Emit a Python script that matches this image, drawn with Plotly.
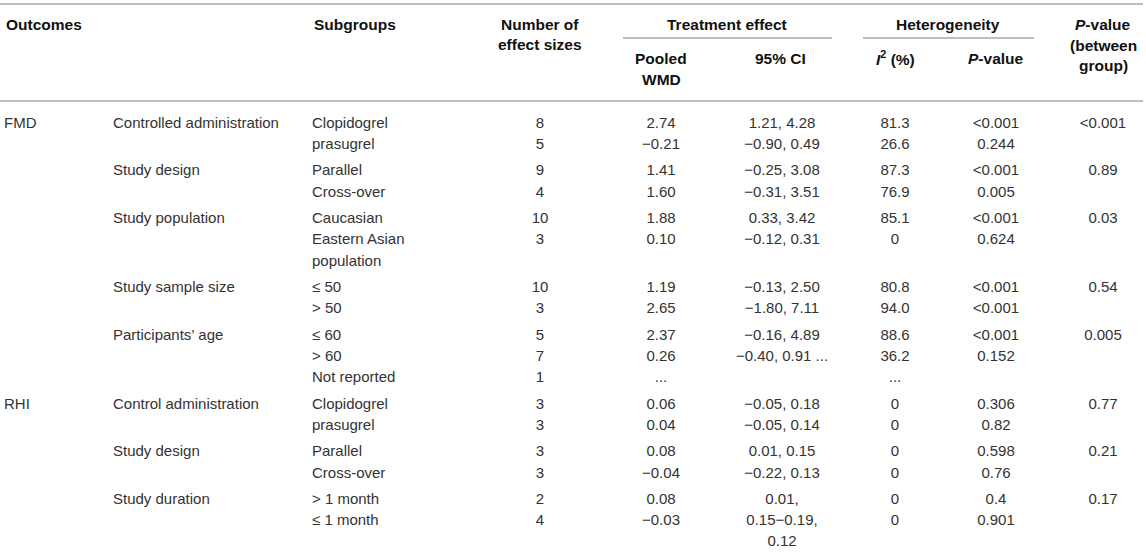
import plotly.graph_objects as go

# table body, one entry per logical row
outcomes = ["FMD", "", "", "", "", "", "", "", "", "", "",
            "RHI", "", "", "", "", ""]
factors = ["Controlled administration", "", "Study design", "", "Study population", "",
           "Study sample size", "", "Participants’ age", "", "",
           "Control administration", "", "Study design", "", "Study duration", ""]
subgroups = ["Clopidogrel", "prasugrel", "Parallel", "Cross-over", "Caucasian",
             "Eastern Asian\npopulation", "≤ 50", "> 50", "≤ 60", "> 60", "Not reported",
             "Clopidogrel", "prasugrel", "Parallel", "Cross-over", "> 1 month", "≤ 1 month"]
n_effects = ["8", "5", "9", "4", "10", "3", "10", "3", "5", "7", "1",
             "3", "3", "3", "3", "2", "4"]
pooled_wmd = ["2.74", "−0.21", "1.41", "1.60", "1.88", "0.10", "1.19", "2.65", "2.37", "0.26", "...",
              "0.06", "0.04", "0.08", "−0.04", "0.08", "−0.03"]
ci95 = ["1.21, 4.28", "−0.90, 0.49", "−0.25, 3.08", "−0.31, 3.51", "0.33, 3.42", "−0.12, 0.31",
        "−0.13, 2.50", "−1.80, 7.11", "−0.16, 4.89", "−0.40, 0.91 ...", "",
        "−0.05, 0.18", "−0.05, 0.14", "0.01, 0.15", "−0.22, 0.13", "0.01,", "0.15−0.19,\n0.12"]
i2 = ["81.3", "26.6", "87.3", "76.9", "85.1", "0", "80.8", "94.0", "88.6", "36.2", "...",
      "0", "0", "0", "0", "0", "0"]
p_het = ["<0.001", "0.244", "<0.001", "0.005", "<0.001", "0.624", "<0.001", "<0.001", "<0.001", "0.152", "",
         "0.306", "0.82", "0.598", "0.76", "0.4", "0.901"]
p_between = ["<0.001", "", "0.89", "", "0.03", "", "0.54", "", "0.005", "", "",
             "0.77", "", "0.21", "", "0.17", ""]

W, H = 1146, 552
FONT = "Liberation Sans, Arial, sans-serif"
BODY_COLOR = "#333333"
RULE_COLOR = "#a8a8a8"
LINE_H = 21.2
GROUP_GAP = 5.3
FIRST_Y = 124

# column anchor x and alignment
columns = [
    (outcomes, 4, "left"),
    (factors, 113, "left"),
    (subgroups, 312, "left"),
    (n_effects, 540, "center"),
    (pooled_wmd, 661, "center"),
    (ci95, 782, "center"),
    (i2, 895, "center"),
    (p_het, 996, "center"),
    (p_between, 1103, "center"),
]

# vertical position of each row: extra gap whenever a new factor starts
row_y = []
y = FIRST_Y
for i in range(len(subgroups)):
    if i > 0 and factors[i]:
        y += GROUP_GAP
    row_y.append(y)
    nlines = max(len(col[i].split("\n")) for col, _, _ in columns)
    y += LINE_H * nlines

fig = go.Figure()
for values, cx, align in columns:
    xs, ys, txt = [], [], []
    for i, v in enumerate(values):
        for k, part in enumerate(v.split("\n")):
            if part:
                xs.append(cx)
                ys.append(row_y[i] + k * LINE_H)
                txt.append(part)
    fig.add_trace(go.Scatter(
        x=xs, y=ys, text=txt, mode="text",
        textposition="middle right" if align == "left" else "middle center",
        textfont=dict(family=FONT, size=15, color=BODY_COLOR),
        hoverinfo="skip", showlegend=False, cliponaxis=False,
    ))

# header labels
headers = [
    ("Outcomes", 4, 24, "left"),
    ("Subgroups", 312, 24, "left"),
    ("Number of", 540, 24, "center"),
    ("effect sizes", 540, 44, "center"),
    ("Treatment effect", 727, 24, "center"),
    ("Pooled", 661, 58, "center"),
    ("WMD", 661, 79, "center"),
    ("95% CI", 780, 58, "center"),
    ("Heterogeneity", 948, 24, "center"),
    ("<i>I</i><sup>2</sup> (%)", 895, 58, "center"),
    ("<i>P</i>-value", 996, 58, "center"),
    ("<i>P</i>-value", 1103, 24, "center"),
    ("(between", 1103, 45, "center"),
    ("group)", 1103, 65, "center"),
]
for text, hx, hy, anchor in headers:
    fig.add_annotation(x=hx, y=hy, xref="x", yref="y", text=f"<b>{text}</b>",
                       showarrow=False, xanchor=anchor, yanchor="middle",
                       font=dict(family=FONT, size=15.5, color="#111111"))

# horizontal rules
rules = [(0, 1143, 4), (0, 1143, 101), (623, 832, 38), (863, 1034, 38)]
for x0, x1, ry in rules:
    fig.add_shape(type="line", x0=x0, x1=x1, y0=ry, y1=ry, xref="x", yref="y",
                  line=dict(color=RULE_COLOR, width=1.5))

fig.update_xaxes(range=[0, W], visible=False, fixedrange=True)
fig.update_yaxes(range=[H, 0], visible=False, fixedrange=True)
fig.update_layout(width=W, height=H, margin=dict(l=0, r=0, t=0, b=0),
                  plot_bgcolor="white", paper_bgcolor="white")

# drop the browser's default 8px body margin so the table sits flush
fig.write_html("out.html", config={"displayModeBar": False},
               post_script="document.body.style.margin='0';")
